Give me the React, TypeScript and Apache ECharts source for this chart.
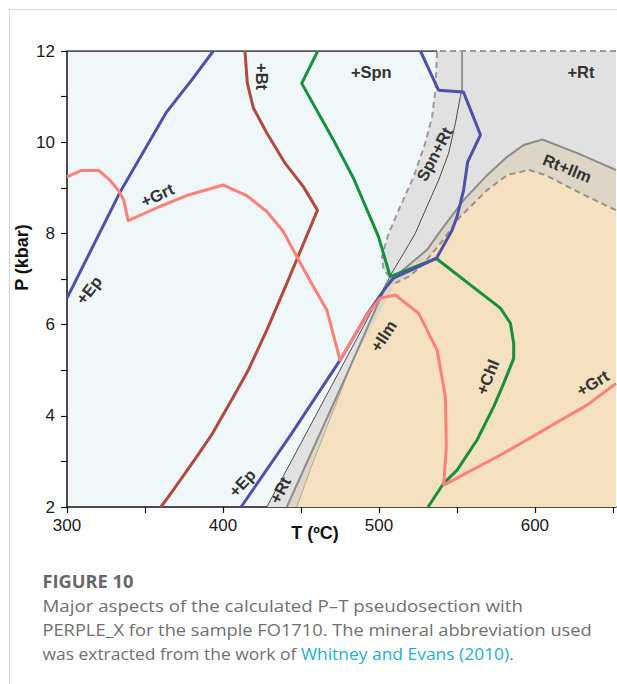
import React, { useEffect, useRef } from "react";
import * as echarts from "echarts";

// Temperature (°C), pressure (kbar) pairs for each reaction curve
const epUpper: [number, number][] = [[300, 6.58], [333.8, 8.89], [363.8, 10.66], [379.9, 11.36], [393.8, 12]];
const epLower: [number, number][] = [
  [411.6, 2], [443.0, 3.56], [475.1, 5.22], [492.5, 6.23], [504.1, 6.8], [509.4, 7.02], [536.8, 7.45],
  [546.9, 8.07], [550.1, 8.37], [554.3, 8.95], [556.9, 9.57], [565.1, 10.16], [554.2, 11.1], [538.2, 11.14], [526.6, 12],
];
const btCurve: [number, number][] = [
  [360.2, 2], [368.1, 2.37], [383.1, 3.1], [392.7, 3.58], [399.2, 3.97], [406.6, 4.41], [416.2, 5.0], [428.1, 5.88],
  [441.9, 6.98], [460.6, 8.51], [451.6, 9.02], [439.8, 9.54], [428.1, 10.2], [419.5, 10.75], [415.6, 11.3], [414.1, 12],
];
const chlCurve: [number, number][] = [
  [460.8, 12], [450.5, 11.29], [470.8, 10.05], [483.7, 9.21], [499.7, 7.93], [507.3, 7.05], [536.8, 7.45],
  [558.6, 6.87], [577.9, 6.36], [584.3, 6.03], [586.4, 5.59], [586.4, 5.26], [580.0, 4.71], [573.6, 4.2],
  [562.9, 3.47], [550.1, 2.81], [541.5, 2.52], [531.5, 2],
];
const grtCurve: [number, number][] = [
  [300, 9.24], [309.2, 9.38], [320.4, 9.38], [327.4, 9.17], [332.8, 8.95], [336.4, 8.73], [339.2, 8.28],
  [359.5, 8.59], [376.7, 8.83], [400.2, 9.06], [415.2, 8.83], [428.1, 8.48], [438.7, 8.04], [447.3, 7.49],
  [458.0, 6.83], [466.6, 6.32], [475.1, 5.22], [483.7, 5.73], [492.3, 6.21], [500.8, 6.58], [510.5, 6.65],
  [525.4, 6.25], [537.3, 5.44], [542.6, 4.42], [543.2, 3.32], [541.5, 2.48], [577.9, 3.14], [633.6, 4.24], [652, 4.71],
];

// Field outlines
const rtField: [number, number][] = [
  [537.3, 12], [652, 12], [652, 2], [428.1, 2], [507.3, 7.04], [503.0, 7.2], [501.9, 7.49], [506.2, 8.0],
  [513.7, 8.59], [522.2, 9.24], [529.7, 9.98], [534.1, 10.56], [536.2, 11.14],
];
const rtIlmField: [number, number][] = [
  [652, 9.39], [627.2, 9.76], [604.7, 10.06], [592.9, 9.94], [582.2, 9.68], [568.3, 9.24], [554.3, 8.73],
  [541.5, 8.15], [530.8, 7.64], [511.6, 7.09], [505.1, 6.91], [481.6, 5.08], [440.9, 2], [652, 2],
];
const ilmField: [number, number][] = [
  [652, 8.51], [629.3, 8.88], [606.8, 9.28], [596.1, 9.39], [582.2, 9.28], [569.4, 8.95], [552.2, 8.37],
  [539.4, 7.78], [528.7, 7.34], [520.1, 7.07], [510.5, 6.91], [481.6, 5.08], [475.2, 4.5], [466.6, 3.76],
  [455.9, 2.81], [447.3, 2], [652, 2],
];

// Boundary lines of the Ti-phase fields
const rtIn: [number, number][] = [
  [428.1, 2], [509.4, 7.2], [515.8, 7.56], [523.3, 8.0], [530.8, 8.59], [538.3, 9.17], [544.7, 9.76],
  [549.0, 10.41], [552.2, 11.0], [553.3, 11.14], [553.3, 12],
];
const rtIlmTop: [number, number][] = [
  [652, 9.39], [627.2, 9.76], [604.7, 10.06], [592.9, 9.94], [582.2, 9.68], [568.3, 9.24], [554.3, 8.73],
  [541.5, 8.15], [530.8, 7.64], [511.6, 7.09], [505.1, 6.91], [481.6, 5.08], [440.9, 2],
];
const rtDashed: [number, number][] = [
  [652, 12], [537.3, 12], [536.2, 11.14], [534.1, 10.56], [529.7, 9.98], [522.2, 9.24], [513.7, 8.59],
  [506.2, 8.0], [501.9, 7.49], [503.0, 7.2], [507.3, 7.04],
];
const ilmDashed: [number, number][] = [
  [652, 8.51], [629.3, 8.88], [606.8, 9.28], [596.1, 9.39], [582.2, 9.28], [569.4, 8.95], [552.2, 8.37],
  [539.4, 7.78], [528.7, 7.34], [520.1, 7.07], [510.5, 6.91],
];
const ilmLowEdge: [number, number][] = [[481.6, 5.08], [475.2, 4.5], [466.6, 3.76], [455.9, 2.81], [447.3, 2]];
const frameTop: [number, number][] = [[300, 12], [537.3, 12]];

// Field and reaction labels: text, T, P, angle (deg)
const labelNames = ["+Spn", "+Rt", "Spn+Rt", "Rt+Ilm", "+Bt", "+Grt", "+Ep", "+Ep", "+Rt", "+Ilm", "+Chl", "+Grt"];
const labelPos: [number, number, number][] = [
  [495.1, 11.54, 0], [629.5, 11.54, 0], [535.5, 9.74, 62], [620.8, 9.43, -22], [424.9, 11.44, -90],
  [357.9, 8.84, 25], [313.9, 6.76, 52], [412.2, 2.53, 47], [436.6, 2.37, 63], [502.8, 5.75, 57],
  [569.6, 4.85, 68], [637.0, 4.72, 31],
];

const captionTitle = "FIGURE 10";
const captionLines = [
  "Major aspects of the calculated P\u2013T pseudosection with",
  "PERPLE_X for the sample FO1710. The mineral abbreviation used",
];
const captionLast = "was extracted from the work of ";
const captionRef = "Whitney and Evans (2010)";

const T_MIN = 300;
const T_MAX = 652;

function field(name: string, verts: [number, number][], color: string, z: number) {
  return {
    type: "custom",
    name,
    coordinateSystem: "cartesian2d",
    data: verts,
    silent: true,
    clip: true,
    z,
    renderItem: (params: any, api: any) =>
      params.dataIndex === 0
        ? { type: "polygon", shape: { points: verts.map((v) => api.coord(v)) }, style: { fill: color } }
        : null,
  };
}

function curve(name: string, data: [number, number][], color: string, width: number, z: number, type: any = "solid") {
  return {
    type: "line",
    name,
    data,
    symbol: "none",
    silent: true,
    z,
    lineStyle: { color, width, type, cap: "butt", join: "round" },
  };
}

export default function App() {
  const ref = useRef<HTMLDivElement>(null);

  useEffect(() => {
    if (!ref.current) return;
    const chart = echarts.init(ref.current, null, { renderer: "svg" });
    const capFont = '"Open Sans", "Noto Sans", sans-serif';
    const axisFont = '"Liberation Sans", Arial, sans-serif';
    const capX = 42.5;
    const lineY = [605.5, 629.5];
    const lineScale = [1.1, 1.075];

    chart.setOption({
      animation: false,
      backgroundColor: "#ffffff",
      grid: { left: 67, top: 51, right: 1, bottom: 177, show: true, borderWidth: 0, backgroundColor: "#eff7f8" },
      xAxis: {
        type: "value",
        min: T_MIN,
        max: T_MAX,
        interval: 50,
        splitLine: { show: false },
        axisLine: { lineStyle: { color: "#111", width: 1.5 } },
        axisTick: { length: 6, lineStyle: { color: "#111", width: 1.2 } },
        axisLabel: {
          margin: 10,
          color: "#1a1a1a",
          fontSize: 17,
          fontFamily: axisFont,
          showMaxLabel: false,
          formatter: (v: number) => (v % 100 === 0 ? String(v) : ""),
        },
      },
      yAxis: {
        type: "value",
        min: 2,
        max: 12,
        interval: 1,
        splitLine: { show: false },
        axisLine: { lineStyle: { color: "#111", width: 1.5 } },
        axisTick: { length: 6, lineStyle: { color: "#111", width: 1.2 } },
        axisLabel: {
          margin: 12,
          color: "#1a1a1a",
          fontSize: 17,
          fontFamily: axisFont,
          formatter: (v: number) => (v % 2 === 0 ? String(v) : ""),
        },
      },
      series: [
        field("Rt", rtField, "#e1e1e1", 1),
        field("Rt+Ilm", rtIlmField, "#ddd5c5", 2),
        field("Ilm", ilmField, "#f5e0c0", 3),
        curve("Rt-in", rtIn, "#4a4a4a", 1, 4),
        curve("Ilm edge", ilmLowEdge, "#b3a796", 1, 4),
        curve("Rt+Ilm top", rtIlmTop, "#8c8c8c", 2, 4),
        curve("Rt dashed", rtDashed, "#9b9b9b", 2, 4, [6, 4]),
        curve("Ilm dashed", ilmDashed, "#9b9189", 2, 4, [6, 4]),
        curve("frame", frameTop, "#222", 1.5, 4),
        curve("Bt", btCurve, "#b04a3e", 3, 5),
        curve("Chl", chlCurve, "#17903c", 3, 5),
        curve("Ep", epUpper, "#5050aa", 3, 6),
        curve("Ep", epLower, "#5050aa", 3, 6),
        curve("Grt", grtCurve, "#ff8078", 3, 7),
        {
          type: "custom",
          name: "labels",
          coordinateSystem: "cartesian2d",
          data: labelPos,
          silent: true,
          z: 8,
          renderItem: (params: any, api: any) => {
            const p = api.coord([api.value(0), api.value(1)]);
            return {
              type: "text",
              x: p[0],
              y: p[1],
              rotation: (api.value(2) * Math.PI) / 180,
              style: {
                text: labelNames[params.dataIndex],
                fill: "#333",
                fontSize: 16.5,
                fontWeight: "bold",
                fontFamily: axisFont,
                align: "center",
                verticalAlign: "middle",
              },
            };
          },
        },
      ],
      graphic: [
        { type: "line", shape: { x1: 9, y1: 9.5, x2: 617, y2: 9.5 }, style: { stroke: "#d6d6d6", lineWidth: 1 } },
        { type: "line", shape: { x1: 9.5, y1: 9, x2: 9.5, y2: 684 }, style: { stroke: "#d6d6d6", lineWidth: 1 } },
        {
          type: "text",
          x: 22,
          y: 257.5,
          rotation: Math.PI / 2,
          style: { text: "P (kbar)", fontSize: 18, fontWeight: "bold", fontFamily: axisFont, fill: "#111", align: "center", verticalAlign: "middle" },
        },
        {
          type: "text",
          x: 315,
          y: 533,
          style: { text: "T (\u00baC)", fontSize: 18, fontWeight: "bold", fontFamily: axisFont, fill: "#111", align: "center", verticalAlign: "middle" },
        },
        {
          type: "text",
          x: capX,
          y: 581.5,
          scaleX: 1.075,
          style: { text: captionTitle, fontSize: 17, fontWeight: "bold", fontFamily: capFont, fill: "#676767", verticalAlign: "middle" },
        },
        ...captionLines.map((t, i) => ({
          type: "text",
          x: capX,
          y: lineY[i],
          scaleX: lineScale[i],
          style: { text: t, fontSize: 17, fontFamily: capFont, fill: "#707070", verticalAlign: "middle" },
        })),
        {
          type: "text",
          x: capX,
          y: 653.5,
          scaleX: 1.025,
          style: {
            text: `{a|${captionLast}}{b|${captionRef}}{a|.}`,
            fontSize: 17,
            fontFamily: capFont,
            verticalAlign: "middle",
            rich: {
              a: { fontSize: 17, fontFamily: capFont, fill: "#707070" },
              b: { fontSize: 17, fontFamily: capFont, fill: "#1eb0d2" },
            },
          },
        },
      ],
    });
    return () => chart.dispose();
  }, []);

  return <div ref={ref} style={{ position: "absolute", left: 0, top: 0, width: 617, height: 684 }} />;
}
